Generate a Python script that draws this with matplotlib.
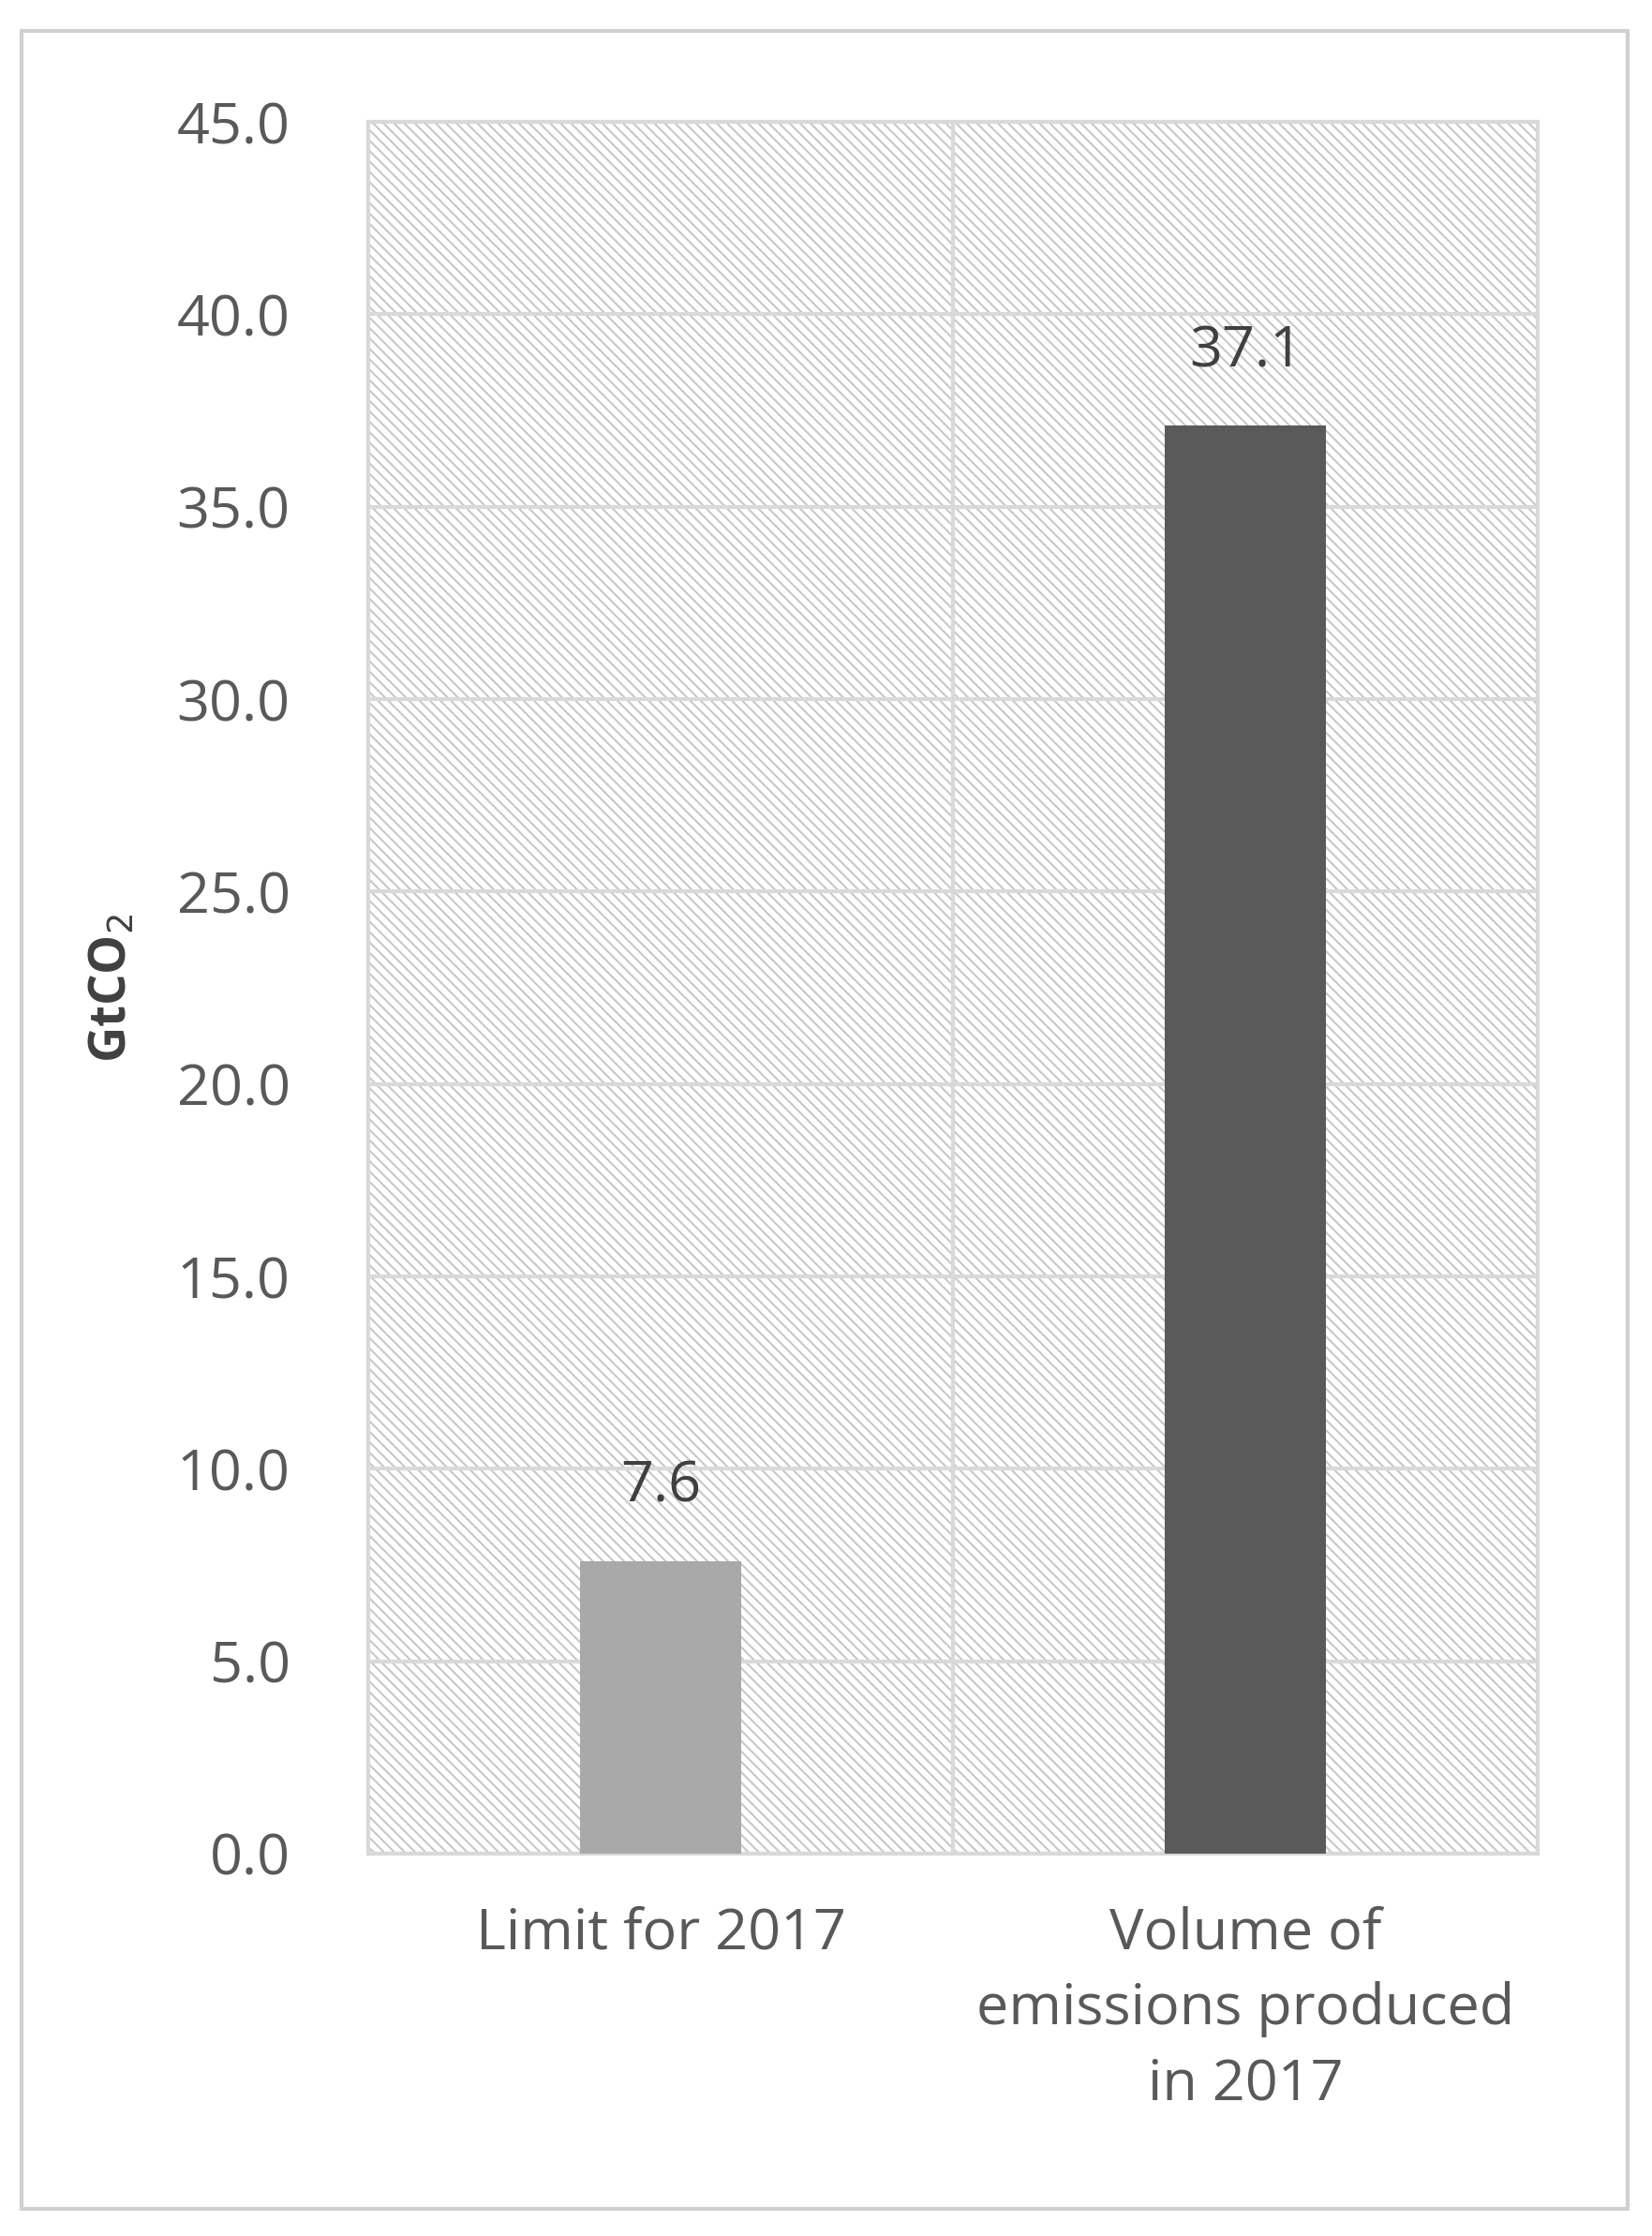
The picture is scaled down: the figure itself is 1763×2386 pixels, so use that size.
import matplotlib.pyplot as plt
from matplotlib.patches import Rectangle

categories = ["Limit for 2017", "Volume of\nemissions produced\nin 2017"]
values = [7.6, 37.1]
bar_colors = ["#a9a9a9", "#5a5a5a"]
yticks = [0, 5, 10, 15, 20, 25, 30, 35, 40, 45]

plt.rcParams['font.family'] = ['Open Sans', 'DejaVu Sans']
plt.rcParams['hatch.color'] = '#c8c8c8'
plt.rcParams['hatch.linewidth'] = 1.5

fig = plt.figure(figsize=(17.63, 23.86), dpi=100)
fig.patches.append(Rectangle((0.013, 0.012), 0.972, 0.974, transform=fig.transFigure,
                             fill=False, edgecolor='#d0d0d0', linewidth=3))
ax = fig.add_axes([0.223, 0.171, 0.708, 0.7745])

ax.add_patch(Rectangle((0, 0), 1, 1, transform=ax.transAxes, facecolor='white',
                       hatch='\\\\\\', edgecolor='#c8c8c8', linewidth=0, zorder=0))
x = range(len(categories))
bars = ax.bar(x, values, width=0.275, color=bar_colors, zorder=3)
for b, v in zip(bars, values):
    ax.text(b.get_x() + b.get_width() / 2, v + 1.2, f"{v:.1f}", ha='center', va='bottom',
            fontsize=44, color='#404040', zorder=4)

ax.set_xlim(-0.5, 1.5)
ax.set_ylim(0, 45)
ax.set_yticks(yticks)
ax.set_yticklabels([f"{t:.1f}" for t in yticks])
ax.set_xticks(list(x))
ax.set_xticklabels(categories, linespacing=1.45)
ax.tick_params(axis='both', length=0, labelsize=44, labelcolor='#595959')
ax.tick_params(axis='y', pad=60)
ax.tick_params(axis='x', pad=40)
for t in yticks:
    ax.axhline(t, color='#d9d9d9', linewidth=3, zorder=1)
ax.axvline(0.5, color='#d9d9d9', linewidth=3, zorder=1)
for s in ax.spines.values():
    s.set_color('#d9d9d9')
    s.set_linewidth(3)
ax.set_ylabel("GtCO$_2$", fontsize=38, fontweight='bold', color='#404040', labelpad=30)

fig.savefig("out.png", dpi=100)
